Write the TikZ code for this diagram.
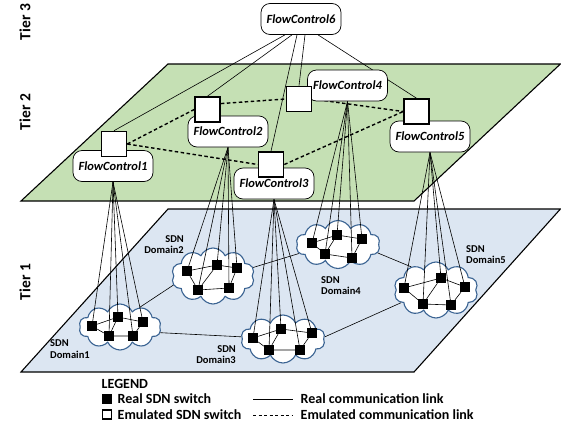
\documentclass[tikz,border=0pt]{standalone}
\usepackage{fontspec}
\setmainfont{Carlito}
\usetikzlibrary{shapes.symbols}
\definecolor{tiertwo}{HTML}{C5E0B4}
\definecolor{tierone}{HTML}{DCE6F2}
\definecolor{cloudedge}{HTML}{3A6392}
\pgfdeclarelayer{planes}
\pgfdeclarelayer{clouds}
\pgfdeclarelayer{links}
\pgfsetlayers{planes,clouds,links,main}
\begin{document}
\begin{tikzpicture}[x=1pt,y=-1pt,
  ctrl/.style={draw=black, line width=0.7pt, fill=white, rounded corners=9pt,
    minimum width=80pt, minimum height=31pt, inner sep=0pt,
    font=\fontsize{12.5}{14}\selectfont\bfseries\itshape},
  emu/.style={draw=black, line width=1.6pt, fill=white, minimum size=25pt, inner sep=0pt},
  sw/.style={fill=black, minimum size=10pt, inner sep=0pt},
  sdncloud/.style={cloud, cloud puffs=10, cloud puff arc=130, draw=cloudedge,
    line width=1.1pt, fill=white, inner sep=0pt, cloud ignores aspect},
  tierplane/.style={draw=black, line width=1.1pt},
  link/.style={line width=0.6pt},
  emlink/.style={line width=1.4pt, dash pattern=on 3.5pt off 2.5pt},
  tierlabel/.style={rotate=90, font=\fontsize{15.5}{18}\selectfont\bfseries},
  dlabel/.style={inner sep=0pt, font=\fontsize{10.5}{11.5}\selectfont\bfseries},
  legtext/.style={anchor=west, inner sep=1pt, font=\fontsize{14}{16}\selectfont\bfseries},
]
\useasboundingbox (0,0) rectangle (561,426);

% the two planes
\begin{pgfonlayer}{planes}
  \path[tierplane, fill=tiertwo] (168,64) -- (560.4,64) -- (414,201) -- (21,201) -- cycle;
  \path[tierplane, fill=tierone] (168,209) -- (560.4,209) -- (414,372) -- (21,372) -- cycle;
\end{pgfonlayer}

% tier labels
\node[tierlabel] (t3) at (25,22) {Tier 3};
\node[tierlabel] (t2) at (25,112) {Tier 2};
\node[tierlabel] (t1) at (25,282) {Tier 1};

% SDN domains (clouds)
\begin{pgfonlayer}{clouds}
  \node[sdncloud, minimum width=82pt, minimum height=46pt] (c1) at (120,327) {};
  \node[sdncloud, minimum width=83pt, minimum height=56pt] (c2) at (213,276) {};
  \node[sdncloud, minimum width=84pt, minimum height=48pt] (c3) at (283,339) {};
  \node[sdncloud, minimum width=84pt, minimum height=48pt] (c4) at (338,244.5) {};
  \node[sdncloud, minimum width=84pt, minimum height=56pt] (c5) at (436,290) {};
\end{pgfonlayer}

% domain labels
\node[dlabel, align=left, anchor=north west] (l1) at (50,339.5) {SDN\\Domain1};
\node[dlabel, align=right, anchor=north east] (l2) at (184,235) {SDN\\Domain2};
\node[dlabel, align=right, anchor=north east] (l3) at (236,345) {SDN\\Domain3};
\node[dlabel, align=left, anchor=north west] (l4) at (321,276) {SDN\\Domain4};
\node[dlabel, align=left, anchor=north west] (l5) at (466,245) {SDN\\Domain5};

% real switches
\node[sw] (s1-a) at (92,326) {};
\node[sw] (s1-b) at (118,317) {};
\node[sw] (s1-c) at (143,322) {};
\node[sw] (s1-d) at (109,336) {};
\node[sw] (s1-e) at (133,336) {};
\node[sw] (s2-a) at (187,271) {};
\node[sw] (s2-b) at (217,265) {};
\node[sw] (s2-c) at (237,268) {};
\node[sw] (s2-d) at (198,290) {};
\node[sw] (s2-e) at (229,288) {};
\node[sw] (s3-a) at (253,338) {};
\node[sw] (s3-b) at (281,329) {};
\node[sw] (s3-c) at (312,333) {};
\node[sw] (s3-d) at (269,350) {};
\node[sw] (s3-e) at (300,350) {};
\node[sw] (s4-a) at (312,243) {};
\node[sw] (s4-b) at (337,235) {};
\node[sw] (s4-c) at (362,239) {};
\node[sw] (s4-d) at (325,254) {};
\node[sw] (s4-e) at (352,258) {};
\node[sw] (s5-a) at (404,288) {};
\node[sw] (s5-b) at (441,278) {};
\node[sw] (s5-c) at (465,287) {};
\node[sw] (s5-d) at (423,304) {};
\node[sw] (s5-e) at (451,305) {};

% controllers
\node[ctrl] (fc6) at (301,19) {FlowControl6};
\node[ctrl] (fc1) at (113,166) {FlowControl1};
\node[ctrl] (fc2) at (228,131.5) {FlowControl2};
\node[ctrl] (fc3) at (274,183.5) {FlowControl3};
\node[ctrl] (fc4) at (347.5,85.5) {FlowControl4};
\node[ctrl] (fc5) at (430,136.5) {FlowControl5};

% emulated switches
\node[emu] (e1) at (114,144) {};
\node[emu] (e2) at (207.5,109.5) {};
\node[emu] (e3) at (271,164.5) {};
\node[emu] (e4) at (299,99) {};
\node[emu] (e5) at (416.5,111.5) {};

\begin{pgfonlayer}{links}
  % top controller to the emulated switches
  \draw[link] ([xshift=-16pt]fc6.south) -- (e1.north);
  \draw[link] ([xshift=-9pt]fc6.south) -- (e2.north);
  \draw[link] ([xshift=-4pt]fc6.south) -- (e3.north);
  \draw[link] ([xshift=4pt]fc6.south) -- (e4.north);
  \draw[link] ([xshift=17pt]fc6.south) -- (e5.north);
  % emulated links between tier-2 switches
  \draw[emlink] (e1.east) -- (e2.west);
  \draw[emlink] (e1.east) -- (e3.west);
  \draw[emlink] (e2.24) -- (e4.west);
  \draw[emlink] (e4.east) -- (e5.west);
  \draw[emlink] (e3.east) -- (e5.west);
  % controllers to the switches of their domain
  \foreach \d in {1,...,5}{
    \foreach \k in {a,b,c,d,e}{
      \draw[link] (fc\d.south) -- (s\d-\k);
    }
    % links inside each domain
    \draw[link] (s\d-a) -- (s\d-b) -- (s\d-c) -- (s\d-e) -- (s\d-d) -- (s\d-a);
    \draw[link] (s\d-b) -- (s\d-d);
  }
  % links between domains
  \draw[link] (c1.45) -- (c2.193);
  \draw[link] (c1.-8) -- (c3.177);
  \draw[link] (c2.12) -- (c4.193);
  \draw[link] (c4.-12) -- (c5.137);
  \draw[link] (c3.3) -- (c5.200);
\end{pgfonlayer}

% legend
\node[legtext] (lg) at (100.5,384) {LEGEND};
\node[sw] (lsw) at (107,399) {};
\node[draw=black, line width=1.2pt, fill=white, minimum size=9pt, inner sep=0pt] (lem) at (107,414.5) {};
\node[legtext] (lreal) at (116.5,399) {Real SDN switch};
\node[legtext] (lemu) at (116.5,415) {Emulated SDN switch};
\coordinate (la1) at (253,399);
\coordinate (la2) at (293,399);
\coordinate (lb1) at (253,415);
\coordinate (lb2) at (293,415);
\draw[link] (la1) -- (la2);
\draw[line width=1pt, dash pattern=on 3pt off 2.5pt] (lb1) -- (lb2);
\node[legtext] (lrl) at (299.5,399) {Real communication link};
\node[legtext] (lel) at (299.5,415) {Emulated communication link};
\end{tikzpicture}
\end{document}
